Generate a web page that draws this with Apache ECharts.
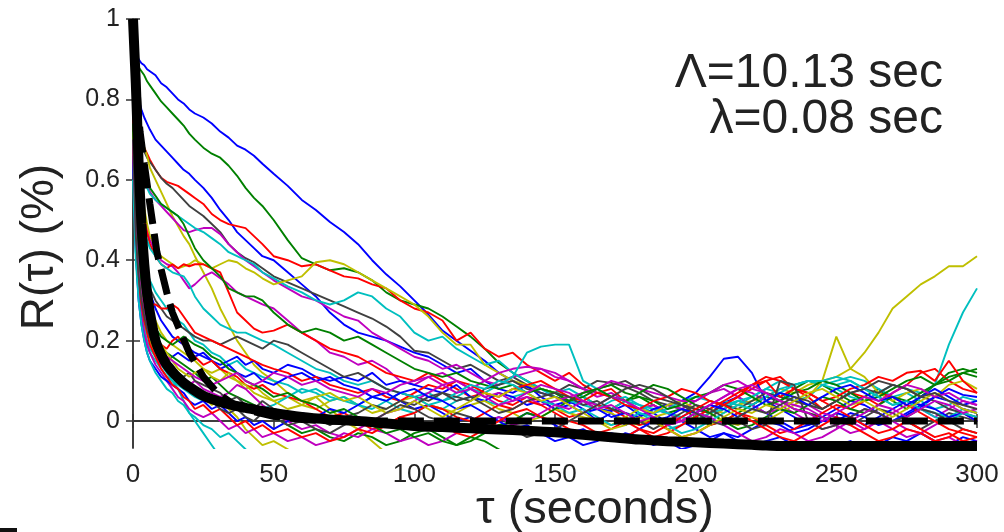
<!DOCTYPE html>
<html><head><meta charset="utf-8">
<script src="https://cdn.jsdelivr.net/npm/echarts@6/dist/echarts.min.js"></script>
<style>html,body{margin:0;padding:0;background:#fff}#c{width:1004px;height:532px}</style>
</head><body><div id="c"></div>
<script>
// ---- data ----
const TAU = [0,1,2,3,4,5,6,8,10,12,14,16,18,20,22, 25,28,31,34,37,40,43,46,
 50,55,60,65,70,75,80,85,90,95,100,105,110,115,120,125,130,135,140,145,150,155,160,165,170,175,180,185,190,195,
 200,205,210,215,220,225,230,235,240,245,250,255,260,265,270,275,280,285,290,295,300];
const X_TICKS = [0,50,100,150,200,250,300];
const Y_TICKS = [0,0.2,0.4,0.6,0.8,1];
const LABEL_L1 = 'Λ=10.13 sec';
const LABEL_L2 = 'λ=0.08 sec';

const B1 = [0.96,0.92,0.9,0.89,0.885,0.875,0.87,0.86,0.84,0.83,0.815,0.8,0.79,0.775,0.765,
 0.755,0.74,0.72,0.705,0.685,0.675,0.66,0.64,
 0.615,0.585,0.55,0.525,0.495,0.47,0.44,0.4,0.365,0.335,
 0.3,0.265,0.225,0.2,0.175,0.15,0.12,0.1,0.085,0.07,
 0.06,0.045,0.05,0.03,0.025,0.04,0.015,0.02,-0.005,0.01,
 0.03,0.02,0.045,0.06,0.04,0.02,0.0,-0.02,-0.01,0.01,
 0.03,0.05,0.04,0.02,0.0,0.015,0.035,0.06,0.08,0.065,0.06];
const G1 = [0.95,0.9,0.88,0.87,0.86,0.845,0.835,0.815,0.795,0.78,0.765,0.75,0.735,0.715,0.7,
 0.68,0.665,0.655,0.635,0.61,0.58,0.555,0.535,
 0.5,0.45,0.405,0.39,0.375,0.38,0.37,0.35,0.32,0.3,
 0.29,0.28,0.26,0.235,0.21,0.18,0.145,0.12,0.1,0.08,
 0.07,0.05,0.06,0.04,0.03,0.05,0.06,0.04,0.02,0.03,
 0.01,-0.01,0.0,0.02,0.04,0.06,0.05,0.08,0.1,0.09,
 0.07,0.05,0.06,0.08,0.05,0.03,0.06,0.09,0.12,0.13,0.12];
const B2 = [0.93,0.85,0.8,0.775,0.755,0.74,0.725,0.7,0.685,0.67,0.655,0.64,0.625,0.615,0.6,
 0.58,0.555,0.525,0.5,0.47,0.45,0.43,0.41,
 0.4,0.37,0.34,0.31,0.27,0.24,0.22,0.21,0.2,0.185,
 0.17,0.16,0.14,0.12,0.13,0.1,0.08,0.07,0.09,0.06,
 0.04,0.05,0.03,0.0,0.02,-0.01,0.01,0.03,0.02,0.0,
 -0.02,-0.04,-0.03,-0.05,-0.06,-0.05,-0.04,-0.06,-0.08,-0.07,
 -0.06,-0.05,-0.07,-0.06,-0.04,-0.05,-0.03,-0.05,-0.06,-0.04,-0.05];
const R1 = [0.92,0.8,0.74,0.7,0.68,0.665,0.65,0.625,0.605,0.595,0.59,0.585,0.575,0.565,0.555,
 0.54,0.515,0.5,0.49,0.485,0.48,0.46,0.44,
 0.41,0.4,0.385,0.39,0.375,0.36,0.355,0.34,0.33,0.3,
 0.28,0.27,0.25,0.2,0.22,0.18,0.16,0.17,0.14,0.12,
 0.1,0.12,0.09,0.07,0.08,0.05,0.03,0.04,0.02,0.01,
 0.0,0.02,0.04,0.06,0.08,0.1,0.11,0.08,0.06,0.03,
 0.05,0.07,0.06,0.04,0.07,0.09,0.12,0.13,0.1,0.08,0.07];
const K1 = [0.9,0.78,0.72,0.69,0.67,0.655,0.645,0.625,0.605,0.59,0.58,0.565,0.55,0.535,0.525,
 0.51,0.49,0.47,0.44,0.42,0.405,0.395,0.38,
 0.36,0.345,0.33,0.315,0.3,0.285,0.27,0.255,0.235,0.21,
 0.175,0.17,0.15,0.13,0.14,0.12,0.1,0.11,0.09,0.08,
 0.07,0.09,0.08,0.1,0.095,0.085,0.07,0.05,0.04,0.03,
 0.02,0.01,0.03,0.05,0.04,0.06,0.05,0.03,0.02,0.01,
 0.0,-0.01,0.01,0.03,0.02,0.0,-0.02,0.0,0.02,0.01,0.0];
const Y1 = [0.93,0.8,0.72,0.69,0.68,0.66,0.63,0.6,0.57,0.54,0.51,0.485,0.46,0.44,0.41,
 0.37,0.33,0.28,0.24,0.2,0.17,0.14,0.12,
 0.1,0.07,0.05,0.06,0.03,0.0,-0.02,-0.05,-0.08,-0.1];
const M1 = [0.9,0.75,0.68,0.64,0.61,0.59,0.57,0.55,0.535,0.52,0.505,0.49,0.475,0.47,0.475,
 0.48,0.48,0.465,0.44,0.42,0.4,0.385,0.37,
 0.35,0.33,0.31,0.3,0.28,0.26,0.25,0.22,0.2,0.18,
 0.16,0.15,0.13,0.14,0.12,0.1,0.09,0.11,0.12,0.13,
 0.11,0.1,0.08,0.07,0.06,0.05,0.03,0.02,0.04,0.03,
 0.05,0.07,0.08,0.06,0.04,0.02,0.03,0.05,0.04,0.02,
 0.01,0.0,-0.02,0.0,0.02,0.04,0.03,0.01,0.03,0.05,0.04];
const C1 = [0.88,0.74,0.66,0.62,0.6,0.58,0.565,0.55,0.54,0.53,0.52,0.51,0.5,0.49,0.48,
 0.47,0.455,0.44,0.42,0.41,0.4,0.39,0.37,
 0.355,0.335,0.32,0.3,0.29,0.3,0.32,0.31,0.28,0.26,
 0.22,0.2,0.21,0.18,0.16,0.14,0.15,0.12,0.1,0.08,
 0.07,0.08,0.06,0.04,0.03,0.05,0.02,0.0,-0.02,-0.01,
 0.01,0.03,0.05,0.04,0.06,0.08,0.07,0.05,0.06,0.09,
 0.1,0.11,0.1,0.08,0.06,0.07,0.05,0.03,0.04,0.06,0.05];
const Y2 = [0.9,0.72,0.64,0.58,0.53,0.49,0.46,0.43,0.41,0.4,0.39,0.38,0.385,0.39,0.4,
 0.39,0.38,0.39,0.4,0.395,0.38,0.37,0.355,
 0.34,0.35,0.36,0.395,0.4,0.39,0.37,0.35,0.33,0.31,
 0.29,0.26,0.22,0.19,0.19,0.14,0.12,0.1,0.09,0.08,
 0.07,0.06,0.05,0.03,0.02,0.0,-0.01,0.01,0.02,0.0,
 0.01,0.03,0.02,0.04,0.05,0.06,0.08,0.07,0.09,0.1,
 0.11,0.13,0.17,0.22,0.28,0.31,0.34,0.36,0.385,0.385,0.41];
const M2 = [0.88,0.7,0.6,0.54,0.5,0.47,0.45,0.42,0.4,0.39,0.385,0.37,0.35,0.33,0.34,
 0.36,0.37,0.355,0.34,0.32,0.31,0.3,0.29,
 0.28,0.25,0.22,0.2,0.17,0.16,0.14,0.15,0.13,0.1,
 0.09,0.11,0.12,0.1,0.08,0.1,0.12,0.13,0.135,0.13,
 0.12,0.1,0.08,0.06,0.07,0.05,0.03,0.04,0.02,0.0,
 0.02,0.04,0.06,0.08,0.07,0.05,0.04,0.02,0.0,-0.02,
 -0.01,0.01,0.03,0.02,0.0,-0.02,-0.03,-0.01,0.01,0.02,0.0];
const R2 = [0.88,0.7,0.6,0.54,0.5,0.47,0.44,0.41,0.39,0.38,0.39,0.38,0.39,0.385,0.39,
 0.39,0.38,0.37,0.32,0.27,0.25,0.23,0.22,
 0.225,0.24,0.22,0.2,0.18,0.17,0.16,0.14,0.12,0.11,
 0.1,0.12,0.1,0.08,0.06,0.07,0.05,0.04,0.06,0.05,
 0.03,0.01,0.02,0.04,0.03,0.01,-0.01,0.0,-0.02,-0.04,
 -0.03,-0.01,0.0,0.02,0.01,-0.01,-0.03,-0.02,0.0,0.02,
 0.04,0.03,0.05,0.07,0.06,0.04,0.02,0.0,-0.02,-0.03,-0.04];
const C2 = [0.85,0.66,0.56,0.5,0.47,0.45,0.43,0.41,0.39,0.38,0.37,0.365,0.36,0.34,0.31,
 0.28,0.26,0.24,0.23,0.22,0.22,0.21,0.2,
 0.19,0.17,0.15,0.13,0.12,0.1,0.09,0.1,0.08,0.07,
 0.06,0.07,0.05,0.06,0.08,0.07,0.09,0.11,0.17,0.185,
 0.19,0.19,0.1,0.08,0.06,0.05,0.04,0.03,0.02,0.01,
 0.0,0.02,0.03,0.05,0.04,0.06,0.08,0.09,0.1,0.1,
 0.09,0.1,0.08,0.06,0.04,0.05,0.03,0.02,0.01,0.03,0.02];
const C3 = [0.8,0.6,0.5,0.44,0.4,0.37,0.35,0.32,0.3,0.28,0.265,0.25,0.24,0.22,0.2,
 0.19,0.17,0.16,0.14,0.15,0.13,0.12,0.11,
 0.1,0.09,0.07,0.08,0.06,0.05,0.04,0.06,0.05,0.03,
 0.02,0.04,0.03,0.05,0.06,0.05,0.04,0.06,0.07,0.08,
 0.06,0.05,0.04,0.03,0.05,0.06,0.04,0.02,0.03,0.05,
 0.06,0.05,0.04,0.05,0.06,0.08,0.1,0.09,0.1,0.09,
 0.08,0.06,0.05,0.07,0.09,0.08,0.07,0.09,0.19,0.27,0.33];
const B3 = [0.82,0.6,0.5,0.43,0.38,0.35,0.32,0.28,0.25,0.23,0.21,0.2,0.19,0.18,0.17,
 0.16,0.15,0.14,0.15,0.16,0.14,0.15,0.13,
 0.12,0.14,0.13,0.11,0.1,0.11,0.1,0.12,0.09,0.1,
 0.09,0.08,0.07,0.09,0.06,0.05,0.07,0.06,0.04,0.05,
 0.03,0.04,0.02,0.03,0.01,0.02,0.01,0.03,0.04,0.05,
 0.07,0.11,0.155,0.16,0.12,0.05,0.03,0.01,-0.01,0.0,
 0.0,0.02,0.01,-0.01,0.0,0.02,0.04,0.03,0.01,0.02,0.0];
const Y3 = [0.75,0.55,0.45,0.38,0.33,0.3,0.28,0.25,0.22,0.2,0.19,0.18,0.17,0.16,0.15,
 0.13,0.12,0.13,0.11,0.1,0.08,0.09,0.07,
 0.05,0.06,0.04,0.03,0.05,0.06,0.04,0.02,0.03,0.05,
 0.06,0.04,0.03,0.02,0.04,0.05,0.03,0.02,0.0,0.01,
 0.03,0.02,0.01,0.0,-0.01,0.01,0.03,0.02,0.04,0.05,
 0.03,0.02,0.0,-0.01,0.01,0.0,0.02,0.04,0.06,0.1,
 0.21,0.13,0.11,0.07,0.05,0.07,0.08,0.06,0.09,0.1,0.08];
const K2 = [0.78,0.58,0.48,0.42,0.38,0.35,0.33,0.3,0.28,0.26,0.25,0.24,0.23,0.22,0.21,
 0.2,0.2,0.19,0.2,0.21,0.2,0.19,0.18,
 0.2,0.19,0.17,0.15,0.13,0.11,0.12,0.1,0.08,0.07,
 0.06,0.05,0.07,0.06,0.05,0.08,0.09,0.1,0.08,0.07,
 0.06,0.05,0.07,0.08,0.09,0.1,0.08,0.06,0.05,0.04,
 0.03,0.02,0.04,0.03,0.05,0.07,0.06,0.05,0.04,0.03,
 0.05,0.07,0.08,0.07,0.09,0.08,0.06,0.05,0.03,0.02,0.01];
const G2 = [0.88,0.72,0.66,0.64,0.62,0.6,0.58,0.56,0.54,0.53,0.52,0.51,0.49,0.46,0.43,
 0.4,0.38,0.36,0.33,0.32,0.31,0.31,0.3,
 0.27,0.24,0.22,0.23,0.22,0.2,0.21,0.19,0.17,0.15,
 0.13,0.12,0.11,0.12,0.1,0.09,0.08,0.09,0.07,0.08,
 0.07,0.05,0.06,0.08,0.09,0.07,0.06,0.05,0.03,0.04,
 0.06,0.07,0.09,0.08,0.06,0.04,0.05,0.07,0.08,0.1,
 0.09,0.07,0.05,0.06,0.08,0.1,0.11,0.09,0.11,0.12,0.11];
const R3 = [0.75,0.5,0.4,0.34,0.31,0.3,0.29,0.29,0.28,0.28,0.29,0.28,0.26,0.24,0.22,
 0.21,0.2,0.19,0.18,0.17,0.16,0.15,0.14,
 0.13,0.12,0.1,0.11,0.09,0.08,0.07,0.08,0.06,0.05,
 0.07,0.09,0.08,0.1,0.09,0.07,0.06,0.08,0.09,0.1,
 0.08,0.06,0.05,0.07,0.06,0.04,0.03,0.05,0.06,0.08,
 0.07,0.05,0.04,0.06,0.09,0.11,0.1,0.08,0.07,0.05,
 0.06,0.08,0.09,0.11,0.1,0.12,0.125,0.1,0.15,0.1,0.07];
const C4 = [0.7,0.45,0.33,0.27,0.23,0.2,0.18,0.16,0.14,0.12,0.1,0.08,0.05,0.02,0.0,
 -0.03,-0.06,-0.09,-0.12];
const M3 = [0.72,0.48,0.36,0.3,0.26,0.23,0.2,0.17,0.14,0.13,0.12,0.11,0.1,0.09,0.1,
 0.08,0.07,0.06,0.07,0.09,0.08,0.06,0.04,
 0.02,0.0,-0.02,-0.01,-0.03,-0.04,-0.02,0.0,0.02,0.03,
 0.05,0.07,0.09,0.1,0.08,0.06,0.07,0.05,0.06,0.04,
 0.05,0.06,0.07,0.08,0.1,0.09,0.08,0.07,0.06,0.05,
 0.05,0.07,0.09,0.1,0.08,0.07,0.05,0.04,0.03,0.01,
 -0.01,-0.03,-0.02,0.0,-0.02,-0.04,-0.03,-0.05,-0.04,-0.06,-0.05];
const B4 = [0.7,0.46,0.35,0.29,0.25,0.22,0.2,0.18,0.16,0.15,0.16,0.17,0.16,0.15,0.16,
 0.17,0.15,0.13,0.14,0.12,0.11,0.12,0.1,
 0.09,0.11,0.12,0.1,0.11,0.09,0.08,0.06,0.07,0.05,
 0.03,0.04,0.02,0.0,0.01,-0.01,0.01,0.0,0.02,0.01,
 -0.01,-0.03,-0.02,-0.04,-0.05,-0.03,-0.04,-0.06,-0.05,-0.07,
 -0.06,-0.05,-0.03,-0.04,-0.02,0.0,-0.01,-0.03,-0.02,0.0,
 0.02,0.01,-0.01,0.01,0.03,0.05,0.04,0.06,0.05,0.03,0.02];
const Y4 = [0.7,0.45,0.34,0.28,0.25,0.22,0.2,0.17,0.15,0.13,0.12,0.11,0.09,0.08,0.07,
 0.06,0.04,0.05,0.03,0.01,-0.02,-0.04,-0.06,
 -0.05,-0.07,-0.09,-0.12];
const R4 = [0.74,0.5,0.38,0.32,0.28,0.26,0.24,0.21,0.19,0.18,0.2,0.21,0.19,0.17,0.16,
 0.14,0.15,0.13,0.12,0.11,0.09,0.08,0.09,
 0.07,0.06,0.05,0.03,0.01,0.02,0.0,-0.02,-0.01,0.01,
 0.02,0.04,0.03,0.01,0.0,0.02,0.04,0.03,0.05,0.04,
 0.02,0.0,-0.01,-0.03,-0.02,0.0,-0.02,-0.04,-0.03,-0.01,
 0.01,0.03,0.05,0.07,0.09,0.1,0.06,0.08,0.07,0.05,
 0.03,0.01,-0.01,-0.03,-0.02,0.0,-0.02,-0.04,-0.03,-0.05,-0.04];
const G3 = [0.72,0.48,0.37,0.31,0.27,0.24,0.22,0.2,0.18,0.17,0.16,0.15,0.14,0.13,0.12,
 0.1,0.11,0.09,0.07,0.06,0.05,0.04,0.03,
 0.01,-0.01,-0.03,-0.02,-0.04,-0.05,-0.03,-0.04,-0.06,-0.05,
 -0.03,-0.02,-0.04,-0.06,-0.05,-0.03,-0.01,0.0,0.02,0.01,
 0.03,0.05,0.07,0.08,0.06,0.05,0.07,0.09,0.08,0.06,
 0.04,0.02,0.0,-0.02,-0.01,0.01,0.03,0.02,0.04,0.06,
 0.05,0.03,0.02,0.04,0.06,0.05,0.07,0.09,0.1,0.12,0.13];
const C5 = [0.68,0.42,0.31,0.25,0.21,0.19,0.17,0.15,0.13,0.11,0.1,0.09,0.08,0.07,0.06,
 0.05,0.06,0.04,0.05,0.03,0.04,0.02,0.03,
 0.04,0.06,0.08,0.07,0.05,0.06,0.04,0.03,0.05,0.07,
 0.06,0.04,0.05,0.07,0.09,0.08,0.1,0.09,0.07,0.05,
 0.04,0.02,0.03,0.01,-0.01,0.0,0.02,0.01,-0.01,-0.03,
 -0.02,0.0,0.02,0.04,0.03,0.05,0.07,0.09,0.1,0.1,
 0.11,0.1,0.08,0.06,0.04,0.05,0.03,0.01,0.0,0.02,0.01];
const K3 = [0.7,0.46,0.35,0.29,0.25,0.23,0.21,0.19,0.17,0.15,0.14,0.12,0.11,0.12,0.1,
 0.09,0.08,0.07,0.05,0.06,0.04,0.03,0.05,
 0.03,0.02,0.0,0.01,-0.01,0.01,0.02,0.04,0.03,0.05,
 0.04,0.06,0.07,0.05,0.06,0.04,0.02,0.03,0.05,0.06,
 0.07,0.06,0.04,0.05,0.03,0.02,0.0,-0.02,0.0,0.02,
 0.04,0.03,0.01,0.0,-0.02,-0.01,0.1,0.09,0.0,-0.02,
 -0.01,0.01,0.03,0.02,0.0,0.01,0.03,0.02,0.0,-0.02,-0.03];
const M4 = [0.68,0.44,0.32,0.26,0.22,0.19,0.17,0.14,0.12,0.1,0.08,0.06,0.05,0.03,0.02,
 0.01,0.02,0.0,-0.02,-0.01,-0.03,-0.02,-0.04,
 -0.03,-0.05,-0.04,-0.06,-0.05,-0.03,-0.04,-0.02,-0.03,-0.05,
 -0.04,-0.06,-0.05,-0.03,-0.02,0.0,0.01,-0.01,0.0,0.02,
 0.04,0.03,0.05,0.04,0.06,0.05,0.03,0.01,-0.01,0.0,
 0.02,0.01,-0.01,-0.03,-0.05,-0.04,-0.02,-0.03,-0.05,-0.04,
 -0.02,0.0,0.02,0.04,0.03,0.01,0.03,0.05,0.04,0.02,0.03];
const B5 = [0.66,0.42,0.3,0.24,0.2,0.17,0.15,0.13,0.11,0.1,0.09,0.08,0.07,0.05,0.04,
 0.05,0.03,0.04,0.02,0.0,0.01,-0.01,0.0,
 -0.02,0.0,0.02,0.01,0.03,0.02,0.04,0.06,0.05,0.07,
 0.08,0.06,0.05,0.03,0.04,0.02,0.0,-0.02,-0.01,-0.03,
 -0.05,-0.04,-0.06,-0.05,-0.03,-0.04,-0.02,0.0,0.01,0.03,
 0.02,0.04,0.03,0.01,0.03,0.05,0.07,0.06,0.04,0.06,
 0.08,0.09,0.07,0.05,0.06,0.04,0.06,0.08,0.06,0.04,0.05];
const Y5 = [0.72,0.48,0.37,0.31,0.28,0.26,0.24,0.21,0.19,0.17,0.15,0.13,0.12,0.11,0.12,
 0.13,0.11,0.1,0.12,0.1,0.09,0.07,0.06,
 0.05,0.03,0.04,0.06,0.07,0.05,0.06,0.04,0.02,0.03,
 0.05,0.03,0.01,0.03,0.05,0.07,0.06,0.08,0.07,0.05,
 0.06,0.04,0.02,0.0,-0.02,-0.01,0.01,0.0,-0.02,-0.04,
 -0.03,-0.01,0.01,0.03,0.02,0.04,0.03,0.05,0.07,0.08,
 0.06,0.04,0.05,0.03,0.01,0.03,0.05,0.07,0.05,0.03,0.02];
const R5 = [0.7,0.46,0.35,0.29,0.25,0.22,0.19,0.16,0.13,0.11,0.09,0.08,0.06,0.05,0.03,
 0.04,0.02,0.03,0.01,-0.01,0.0,-0.02,-0.01,
 -0.03,-0.02,-0.04,-0.03,-0.05,-0.04,-0.02,-0.03,-0.01,0.01,
 0.0,-0.02,-0.01,-0.03,-0.04,-0.02,0.0,0.02,0.03,0.01,
 0.0,-0.02,-0.04,-0.03,-0.05,-0.04,-0.02,-0.03,-0.01,0.01,
 0.03,0.05,0.04,0.02,0.0,-0.02,-0.04,-0.05,-0.03,-0.01,
 0.01,-0.01,-0.03,-0.05,-0.04,-0.02,-0.03,-0.05,-0.04,-0.02,-0.03];
const G4 = [0.74,0.5,0.4,0.34,0.3,0.27,0.25,0.23,0.21,0.2,0.19,0.2,0.21,0.2,0.19,
 0.18,0.16,0.15,0.13,0.12,0.1,0.09,0.08,
 0.06,0.07,0.05,0.04,0.02,0.03,0.01,-0.01,-0.03,-0.02,
 -0.04,-0.03,-0.05,-0.06,-0.04,-0.05,-0.07,-0.09];
const C6 = [0.6,0.4,0.3,0.24,0.2,0.17,0.15,0.12,0.1,0.08,0.07,0.05,0.04,0.02,0.01,
 -0.01,-0.02,-0.04,-0.03,-0.05,-0.07,-0.09];
const M5 = [0.7,0.47,0.37,0.31,0.27,0.24,0.22,0.2,0.18,0.16,0.15,0.14,0.13,0.12,0.11,
 0.1,0.09,0.1,0.11,0.12,0.1,0.09,0.1,
 0.12,0.11,0.09,0.1,0.08,0.07,0.06,0.08,0.07,0.09,
 0.1,0.11,0.09,0.07,0.08,0.06,0.04,0.05,0.07,0.09,
 0.08,0.07,0.05,0.03,0.04,0.02,0.0,0.01,-0.01,0.0,
 0.02,0.04,0.06,0.08,0.09,0.07,0.05,0.03,0.02,0.0,
 0.02,0.04,0.06,0.05,0.07,0.09,0.08,0.06,0.07,0.05,0.04];
const K4 = [0.7,0.46,0.36,0.3,0.26,0.23,0.21,0.18,0.16,0.14,0.12,0.1,0.09,0.08,0.07,
 0.06,0.05,0.03,0.02,0.03,0.01,0.0,0.02,
 0.01,-0.01,0.0,-0.02,-0.03,-0.01,0.01,0.0,0.02,0.04,
 0.03,0.01,0.0,0.02,0.01,-0.01,-0.03,-0.02,-0.04,-0.03,
 -0.02,0.0,0.02,0.04,0.06,0.08,0.09,0.08,0.06,0.04,
 0.02,0.0,-0.01,0.01,0.03,0.02,0.04,0.06,0.05,0.03,
 0.05,0.07,0.08,0.1,0.09,0.08,0.06,0.07,0.05,0.04,0.03];

// fitted curves
const FIT_TAU = [0,0.5,1,1.5,2,3,4,5,6,8,10,12,15,18,20,25,30,35,40,50,60,70,80,90,100,110,120,130,140,150,160,170,180,190,200,210,220,225,230,240,260,280,300];
const FIT_SOLID = [1,0.92,0.84,0.74,0.64,0.49,0.39,0.32,0.27,0.2,0.165,0.14,0.115,0.095,0.085,0.063,0.05,0.04,0.033,0.02,0.01,0.004,0.0,-0.006,-0.012,-0.015,-0.018,-0.021,-0.024,-0.028,-0.034,-0.04,-0.046,-0.05,-0.053,-0.056,-0.059,-0.061,-0.062,-0.062,-0.062,-0.062,-0.062];
const DASH_TAU = [0,1,2,2.5,4,6,8.5,12,14,17,20,25,30,35,40,50,60,70,300];
const FIT_DASH = [1,0.88,0.76,0.72,0.64,0.54,0.42,0.32,0.27,0.22,0.17,0.11,0.07,0.045,0.028,0.012,0.004,0.0,0.0];

// ---- styling / assembly ----
const COL = {b:'#0000ff', g:'#008000', r:'#ff0000', c:'#00bfbf', m:'#bf00bf', y:'#bfbf00', k:'#404040'};
const TRACES = [
 [B1,'b'],[G1,'g'],[B2,'b'],[R1,'r'],[K1,'k'],[Y1,'y'],[M1,'m'],[C1,'c'],[Y2,'y'],[M2,'m'],
 [R2,'r'],[C2,'c'],[C3,'c'],[B3,'b'],[Y3,'y'],[K2,'k'],[G2,'g'],[R3,'r'],[C4,'c'],[M3,'m'],
 [B4,'b'],[Y4,'y'],[R4,'r'],[G3,'g'],[C5,'c'],[K3,'k'],[M4,'m'],[B5,'b'],[Y5,'y'],[R5,'r'],
 [G4,'g'],[C6,'c'],[M5,'m'],[K4,'k']
];
const series = TRACES.map(([arr,c]) => ({
  type:'line', data: arr.map((v,i)=>[TAU[i], v]), showSymbol:false, symbol:'none',
  lineStyle:{color:COL[c], width:1.9}, z:2, silent:true
}));
series.push({type:'line', data: FIT_DASH.map((v,i)=>[DASH_TAU[i],v]), showSymbol:false, symbol:'none',
  lineStyle:{color:'#000', width:7, type:[26,10]}, z:3, silent:true});
series.push({type:'line', data: FIT_SOLID.map((v,i)=>[FIT_TAU[i],v]), showSymbol:false, symbol:'none', smooth:0.3,
  lineStyle:{color:'#000', width:10}, z:4, silent:true});

const YMIN = -0.067, YMAX = 1;
const axisLine = {show:true, lineStyle:{color:'#333', width:1.5}};
const FONT = "'Liberation Sans', Arial, sans-serif";
const chart = echarts.init(document.getElementById('c'), null, {renderer:'canvas'});
chart.setOption({
  animation:false,
  backgroundColor:'#fff',
  grid:{left:133, right:27, top:19, bottom:84, containLabel:false},
  xAxis:[
    {type:'value', min:0, max:300, interval:50, position:'bottom', axisLine,
     axisTick:{show:true, inside:true, length:7, lineStyle:{color:'#333', width:1.5}},
     axisLabel:{show:true, color:'#222', fontSize:26, fontFamily:FONT, margin:14},
     splitLine:{show:false}},
    {type:'value', min:0, max:300, interval:50, position:'top', axisLine,
     axisTick:{show:true, inside:true, length:7, lineStyle:{color:'#333', width:1.5}},
     axisLabel:{show:false}, splitLine:{show:false}}
  ],
  yAxis:[
    {type:'value', min:YMIN, max:YMAX, position:'left', axisLine,
     axisTick:{show:true, inside:true, length:7, customValues:Y_TICKS, lineStyle:{color:'#333', width:1.5}},
     axisLabel:{show:true, customValues:Y_TICKS, color:'#222', fontSize:25, fontFamily:FONT, margin:13},
     splitLine:{show:false}},
    {type:'value', min:YMIN, max:YMAX, position:'right', axisLine,
     axisTick:{show:true, inside:true, length:7, customValues:Y_TICKS, lineStyle:{color:'#333', width:1.5}},
     axisLabel:{show:false}, splitLine:{show:false}}
  ],
  series,
  graphic:[
    {type:'text', x:943, y:74, style:{text:LABEL_L1, align:'right', verticalAlign:'middle', fill:'#222', font:"48px "+FONT}, z:10},
    {type:'text', x:943, y:120, style:{text:LABEL_L2, align:'right', verticalAlign:'middle', fill:'#222', font:"48px "+FONT}, z:10},
    {type:'text', x:595, y:510, style:{text:'τ (seconds)', align:'center', verticalAlign:'middle', fill:'#222', font:"47px "+FONT}, z:10},
    {type:'text', x:40, y:247, rotation:Math.PI/2, style:{text:'R(τ) (%)', align:'center', verticalAlign:'middle', fill:'#222', font:"46px "+FONT}, z:10},
    {type:'rect', shape:{x:0, y:528, width:17, height:4}, style:{fill:'#111'}, z:10}
  ]
});
</script></body></html>
